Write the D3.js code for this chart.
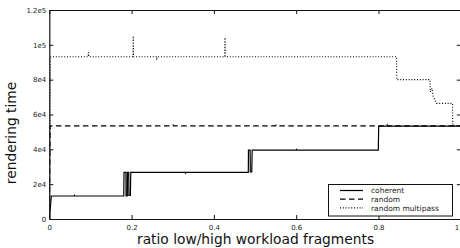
<!DOCTYPE html>
<html><head><meta charset="utf-8">
<script src="https://cdn.jsdelivr.net/npm/d3@7"></script>
<style>body{margin:0;background:#fff}svg{display:block;font-family:"DejaVu Sans",sans-serif}</style>
</head><body><svg id="c" width="460" height="248"></svg>
<script>
// ---- data ----
const xTicks = [0, 0.2, 0.4, 0.6, 0.8, 1];
const xTickLabels = ["0", "0.2", "0.4", "0.6", "0.8", "1"];
const yTicks = [0, 20000, 40000, 60000, 80000, 100000, 120000];
const yTickLabels = ["0", "2e4", "4e4", "6e4", "8e4", "1e5", "1.2e5"];

const coherentX = [0, 0.005, 0.06, 0.061, 0.062, 0.181, 0.1815, 0.1863, 0.1866, 0.1896, 0.19, 0.193, 0.1935, 0.197, 0.198, 0.33, 0.331, 0.332, 0.4836, 0.484, 0.488, 0.4885, 0.492, 0.493, 0.60, 0.601, 0.602, 0.7995, 0.8005, 1.0];
const coherentY = [0, 13200, 13200, 13600, 13200, 13200, 26800, 26800, 13300, 13300, 26800, 26800, 13500, 13500, 26800, 26800, 26300, 26800, 26800, 39600, 39600, 27000, 27000, 39600, 39600, 40000, 39600, 39600, 53300, 53300];

const randomX = [0, 0.002, 0.3, 0.301, 0.302, 0.55, 0.551, 0.552, 0.8, 0.82, 0.821, 0.822, 0.9, 0.901, 0.902, 1.0];
const randomY = [0, 53500, 53500, 53900, 53500, 53500, 53900, 53500, 53500, 53500, 54000, 53500, 53500, 53900, 53500, 53500];

const multiX = [0, 0.002, 0.094, 0.095, 0.096, 0.2035, 0.204, 0.2045, 0.26, 0.261, 0.262, 0.4265, 0.427, 0.4275, 0.844, 0.8445, 0.925, 0.926, 0.93, 0.933, 0.937, 0.941, 0.98, 0.9805, 1.0];
const multiY = [0, 93200, 93200, 95700, 93200, 93200, 105000, 93200, 93200, 91300, 93200, 93200, 104100, 93200, 93200, 80000, 80000, 73000, 75000, 70000, 68500, 66400, 66400, 53600, 53600];

const seriesNames = ["coherent", "random", "random multipass"];

// ---- layout ----
const L = 49.3, R = 460.8, T = 10, B = 219;
const x = d3.scaleLinear().domain([0, 1]).range([L, R]);
const y = d3.scaleLinear().domain([0, 120000]).range([B, T]);
const svg = d3.select("#c");

svg.append("defs").append("clipPath").attr("id", "clip")
  .append("rect").attr("x", L).attr("y", T).attr("width", R - L).attr("height", B - T);

const styles = [
  {dash: null, w: 1.2},
  {dash: "5.5,3.5", w: 1.2},
  {dash: "1,1.8", w: 1.1}
];
const series = [
  d3.zip(coherentX, coherentY),
  d3.zip(randomX, randomY),
  d3.zip(multiX, multiY)
];
const line = d3.line().x(d => x(d[0])).y(d => y(d[1]));
const g = svg.append("g").attr("clip-path", "url(#clip)");
[2, 1, 0].forEach(i => {
  g.append("path").attr("d", line(series[i])).attr("fill", "none")
    .attr("stroke", "#000").attr("stroke-width", styles[i].w)
    .attr("stroke-dasharray", styles[i].dash);
});

// axes (inward ticks on all sides)
const axB = d3.axisBottom(x).tickValues(xTicks).tickFormat((d, i) => xTickLabels[i]).tickSizeInner(-4).tickSizeOuter(0).tickPadding(6);
const axT = d3.axisTop(x).tickValues(xTicks).tickFormat("").tickSizeInner(-4).tickSizeOuter(0);
const axL = d3.axisLeft(y).tickValues(yTicks).tickFormat((d, i) => yTickLabels[i]).tickSizeInner(-4).tickSizeOuter(0).tickPadding(3);
const axR = d3.axisRight(y).tickValues(yTicks).tickFormat("").tickSizeInner(-4).tickSizeOuter(0);
function style(sel) {
  sel.selectAll("path").attr("stroke", "#111").attr("stroke-width", 1.2);
  sel.selectAll("line").attr("stroke", "#111").attr("stroke-width", 1);
  sel.selectAll("text").attr("font-family", "DejaVu Sans").attr("font-size", 7).attr("fill", "#222");
}
const gB = svg.append("g").attr("transform", `translate(0,${B})`).call(axB).call(style);
// keep the last tick label inside the canvas
gB.selectAll(".tick").filter(d => d === 1).select("text").attr("text-anchor", "end").attr("dx", -2.2);
svg.append("g").attr("transform", `translate(0,${T})`).call(axT).call(style);
svg.append("g").attr("transform", `translate(${L},0)`).call(axL).call(style);
svg.append("g").attr("transform", `translate(${R},0)`).call(axR).call(style);

// axis labels
svg.append("text").attr("x", (L + R) / 2 + 0.5).attr("y", 244).attr("text-anchor", "middle")
  .attr("font-size", 13.8).attr("fill", "#111").text("ratio low/high workload fragments");
svg.append("text").attr("transform", "translate(16,133) rotate(-90)").attr("text-anchor", "middle")
  .attr("font-size", 13.8).attr("fill", "#111").text("rendering time");

// legend
const lg = svg.append("g");
lg.append("rect").attr("x", 328.5).attr("y", 184.5).attr("width", 124).attr("height", 31.5)
  .attr("fill", "#fff").attr("stroke", "#111").attr("stroke-width", 1);
seriesNames.forEach((n, i) => {
  const yy = 190.5 + i * 8.7;
  lg.append("line").attr("x1", 340).attr("x2", 363).attr("y1", yy).attr("y2", yy)
    .attr("stroke", "#000").attr("stroke-width", styles[i].w).attr("stroke-dasharray", styles[i].dash);
  lg.append("text").attr("x", 371).attr("y", yy + 2.6).attr("font-size", 7.5).attr("fill", "#222").text(n);
});
</script></body></html>
